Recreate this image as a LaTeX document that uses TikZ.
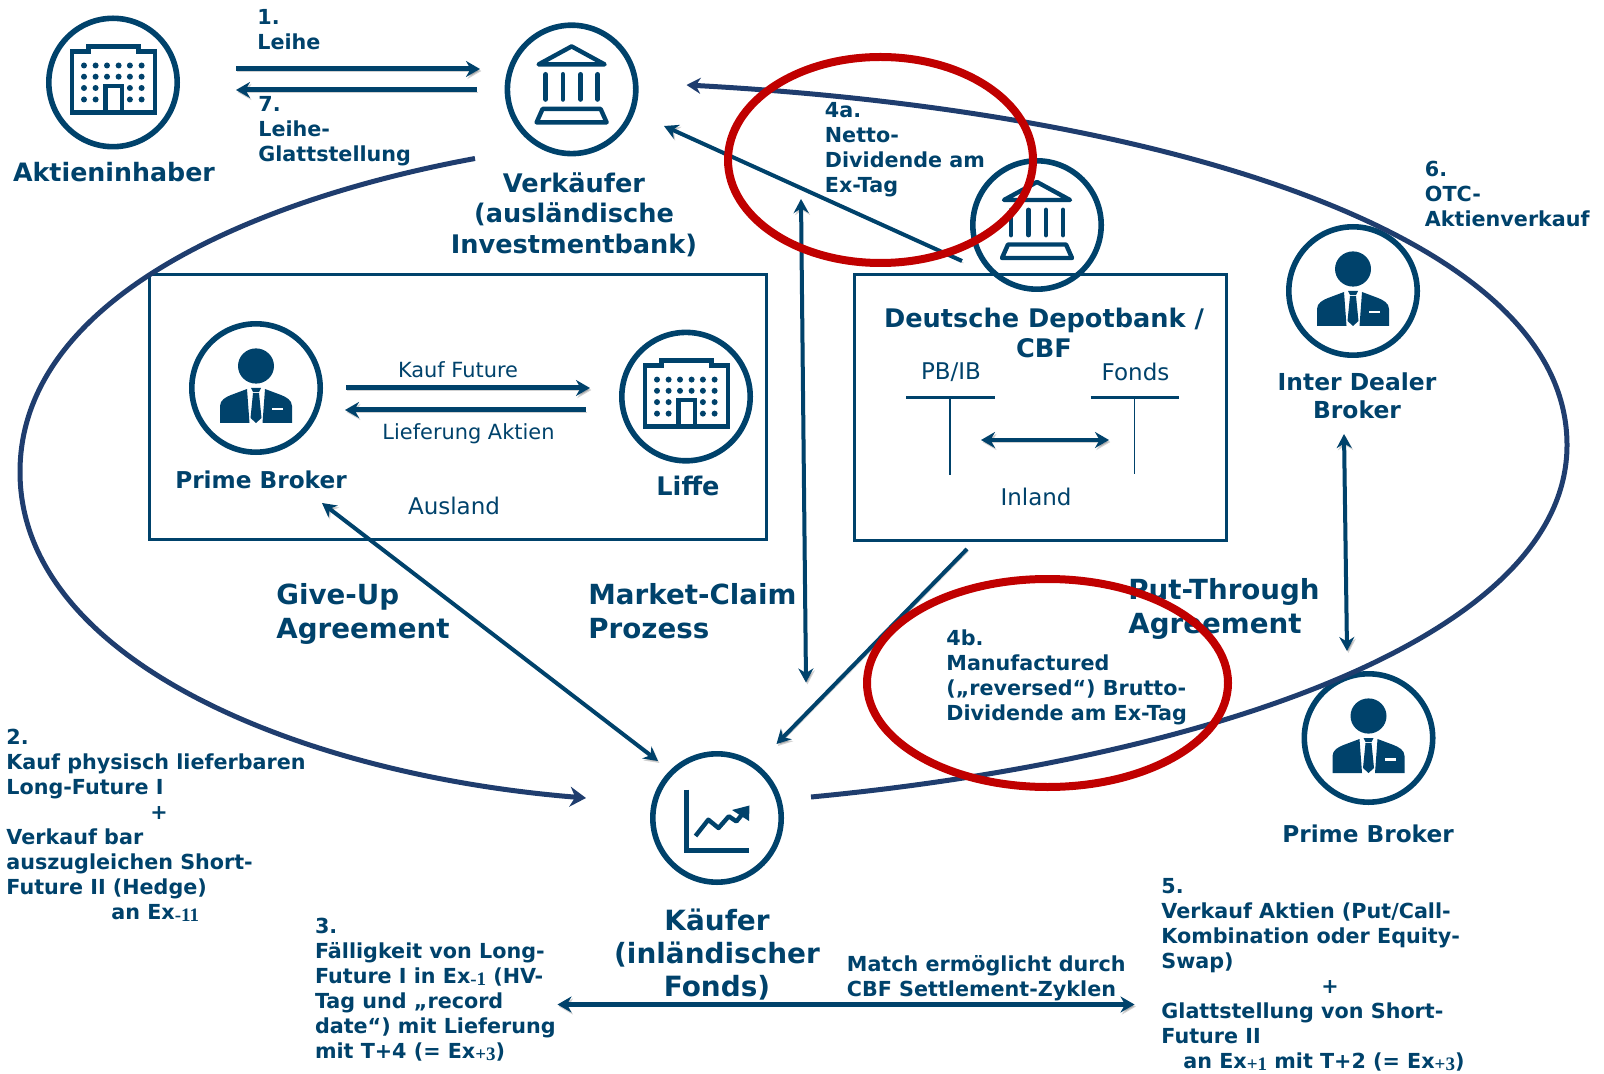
\documentclass[tikz,border=0pt]{standalone}
\usepackage{fontspec}
\setmainfont{DejaVu Sans}
\newfontfamily\subfont{Liberation Serif}
\usepackage{tikz}
\usetikzlibrary{arrows.meta}
\definecolor{navy}{HTML}{00426B}
\definecolor{bogen}{HTML}{1F3D6E}
\definecolor{rot}{HTML}{C00000}
\newcommand{\exsub}[1]{\raisebox{-1pt}{\subfont\fontsize{9.5}{9.5}\selectfont #1}}
\tikzset{
	circ/.style={circle, draw=navy, line width=2.8pt, minimum size=64.2pt, inner sep=0pt},
	icon/.style={draw=navy, line width=2.2pt},
	shad/.style={preaction={draw=black, opacity=.18, transform canvas={xshift=.7pt, yshift=-1pt}}},
	arr/.style={shad, navy, line width=2.5pt, -{Stealth[length=7pt,width=8pt]}},
	darr/.style={shad, navy, line width=2.4pt, {Stealth[length=7pt,width=8pt]}-{Stealth[length=7pt,width=8pt]}},
	diag/.style={shad, navy, line width=2pt, -{Stealth[length=7pt,width=7.5pt]}},
	ddiag/.style={shad, navy, line width=2pt, {Stealth[length=7pt,width=7.5pt]}-{Stealth[length=7pt,width=7.5pt]}},
	bigarc/.style={bogen, line width=2.5pt},
	redring/.style={draw=rot, line width=4pt},
	box/.style={draw=navy, line width=1.5pt, inner sep=0pt},
	lbl/.style={anchor=north west, align=left, inner sep=0pt, text=navy, font=\bfseries\fontsize{10.35}{12.5}\selectfont},
	actor/.style={align=center, inner sep=0pt, text=navy, font=\bfseries\fontsize{12.8}{15.3}\selectfont},
	plain/.style={align=center, inner sep=0pt, text=navy, font=\fontsize{10.45}{13}\selectfont},
	agr/.style={anchor=north west, align=left, inner sep=0pt, text=navy, font=\bfseries\fontsize{13.85}{16.8}\selectfont},
	bldg/.pic={
		\draw[icon] (-41,-31) -- (-24.5,-31) -- (-24.5,-36) -- (25.5,-36) -- (25.5,-31) -- (42,-31) -- (42,30) -- (-41,30) -- cycle;
		\draw[icon] (-7.7,30) -- (-7.7,3.4) -- (9,3.4) -- (9,30);
		\foreach \px in {-29,-17.4,-6,5.6,16.9,28.6}
			\foreach \py in {-17,-5.8} \fill[navy] (\px,\py) circle (1.5pt);
		\foreach \px in {-29,-17.4,16.9,28.6}
			\foreach \py in {5.5,17} \fill[navy] (\px,\py) circle (1.5pt);
	},
	bank/.pic={
		\draw[icon, line join=round] (0,-43) -- (33,-25) -- (-33,-25) -- cycle;
		\foreach \px in {-26,-8.7,9,26}
			\draw[icon, line width=2.4pt, line cap=round] (\px,-15) -- (\px,10);
		\draw[icon, line join=round] (-29,19.5) -- (29,19.5) -- (35,33) -- (-35,33) -- cycle;
	},
	person/.pic={
		\fill[navy] (0,-22) ellipse (9pt and 8.8pt);
		\fill[navy] (-36,35) -- (-36,18) .. controls (-36,12) and (-30,9) .. (-25,7) -- (-9,1) -- (-6.5,35) -- cycle;
		\fill[navy] (36,35) -- (36,18) .. controls (36,12) and (30,9) .. (25,7) -- (9,1) -- (6.5,35) -- cycle;
		\fill[navy] (-5,0) -- (5,0) -- (3,4) -- (-3,4) -- cycle;
		\fill[navy] (-3,5) -- (3,5) -- (5.5,30) -- (0,35) -- (-5.5,30) -- cycle;
		\fill[white] (16,20) rectangle (27,22.5);
	},
	chart/.pic={
		\draw[icon, line width=2.6pt] (-30.7,-28.4) -- (-30.7,32.5) -- (32,32.5);
		\draw[icon, line width=2.2pt, line join=round] (-21.5,18) -- (-8.7,1.7) -- (1.5,10) -- (11.8,-1.7) -- (19.4,3.4) -- (28,-7);
		\fill[navy] (32.5,-12.5) -- (15,-8) -- (32,3) -- cycle;
	}
}
\begin{document}
\begin{tikzpicture}[x=0.5pt, y=-0.5pt]
	\useasboundingbox (0,0) rectangle (1604,1074);
	% circles
	\node[circ] (aktien) at (113,82.5) {};
	\node[circ] (verk) at (571.6,89.4) {};
	\node[circ] (primeA) at (256,388) {};
	\node[circ] (liffe) at (686,396.6) {};
	\node[circ] (depot) at (1037,225) {};
	\node[circ] (idb) at (1353,291) {};
	\node[circ] (primeB) at (1368.5,738) {};
	\node[circ] (kaeufer) at (717,818) {};
	\pic at (aktien.center) {bldg};
	\pic at (liffe.center) {bldg};
	\pic at (verk.center) {bank};
	\pic at (depot.center) {bank};
	\pic at (primeA.center) {person};
	\pic at (idb.center) {person};
	\pic at (primeB.center) {person};
	\pic at (kaeufer.center) {chart};
	% boxes
	\node[box, minimum width=308.5pt, minimum height=132pt] (ausland) at (457.5,407) {};
	\node[box, minimum width=186pt, minimum height=132.5pt] (inland) at (1040,407.5) {};
	% free ends of the connectors
	\coordinate (leiheA) at (236,69);
	\coordinate (leiheB) at (480,69);
	\coordinate (glattA) at (477,90);
	\coordinate (glattB) at (236,90);
	\coordinate (kaufA) at (346,388);
	\coordinate (kaufB) at (590,388);
	\coordinate (liefA) at (586,410);
	\coordinate (liefB) at (345,410);
	\coordinate (settleA) at (981,440);
	\coordinate (settleB) at (1109,440);
	\coordinate (tAtop) at (906,397.6);
	\coordinate (tAtopr) at (995,397.6);
	\coordinate (tAmid) at (950,397.6);
	\coordinate (tAend) at (950,475);
	\coordinate (tBtop) at (1090.5,397.6);
	\coordinate (tBtopr) at (1179,397.6);
	\coordinate (tBmid) at (1134.5,397.6);
	\coordinate (tBend) at (1134.5,474);
	\coordinate (nettoA) at (962,261);
	\coordinate (nettoB) at (664,126);
	\coordinate (claimA) at (801,199);
	\coordinate (claimB) at (806,682.5);
	\coordinate (giveA) at (322,503);
	\coordinate (giveB) at (658,761);
	\coordinate (manufA) at (967,549);
	\coordinate (manufB) at (776.5,744);
	\coordinate (putA) at (1344,434);
	\coordinate (putB) at (1347,651);
	\coordinate (matchA) at (557.5,1004.5);
	\coordinate (matchB) at (1134.5,1004.5);
	\coordinate (arcAs) at (475,158.5);
	\coordinate (arcAm) at (20,472);
	\coordinate (arcAe) at (586,798);
	\coordinate (arcBs) at (811,797);
	\coordinate (arcBm) at (1567,445);
	\coordinate (arcBe) at (686.5,85);
	% connectors
	\draw[arr] (leiheA) -- (leiheB);
	\draw[arr] (glattA) -- (glattB);
	\draw[arr] (kaufA) -- (kaufB);
	\draw[arr] (liefA) -- (liefB);
	\draw[darr] (settleA) -- (settleB);
	\draw[navy, line width=1.3pt] (tAtop) -- (tAtopr);
	\draw[navy, line width=0.9pt] (tAmid) -- (tAend);
	\draw[navy, line width=1.3pt] (tBtop) -- (tBtopr);
	\draw[navy, line width=0.9pt] (tBmid) -- (tBend);
	\draw[diag] (nettoA) -- (nettoB);
	\draw[ddiag] (claimA) -- (claimB);
	\draw[ddiag] (giveA) -- (giveB);
	\draw[diag] (manufA) -- (manufB);
	\draw[ddiag] (putA) -- (putB);
	\draw[darr] (matchA) -- (matchB);
	\draw[bigarc, -{Stealth[length=8pt,width=10pt]}] (arcAs) .. controls (250,200) and (20,300) .. (arcAm) .. controls (20,660) and (300,775) .. (arcAe);
	\draw[bigarc, -{Stealth[length=7pt,width=8pt]}] (arcBs) .. controls (1200,760) and (1567,640) .. (arcBm) .. controls (1567,230) and (1150,110) .. (arcBe);
	% names
	\node[actor, font=\bfseries\fontsize{12.65}{15.2}\selectfont] (nAktien) at (114,172) {Aktieninhaber};
	\node[actor] (nVerk) at (574,214.5) {Verkäufer\\(ausländische\\Investmentbank)};
	\node[actor, font=\bfseries\fontsize{11.6}{13}\selectfont] (nPrimeA) at (261,479.5) {Prime Broker};
	\node[actor] (nLiffe) at (688,485.6) {Liffe};
	\node[plain] (tKauf) at (458,370) {Kauf Future};
	\node[plain] (tLief) at (468.5,433.5) {Lieferung Aktien};
	\node[plain, font=\fontsize{11.5}{14}\selectfont] (tAusland) at (454,506) {Ausland};
	\node[actor] (nDepot) at (1044,333) {Deutsche Depotbank /\\CBF};
	\node[plain, font=\fontsize{11.5}{14}\selectfont] (tPb) at (951,372) {PB/IB};
	\node[plain, font=\fontsize{11.5}{14}\selectfont] (tFonds) at (1135.5,372) {Fonds};
	\node[plain, font=\fontsize{11.5}{14}\selectfont] (tInland) at (1036,496.6) {Inland};
	\node[actor, font=\bfseries\fontsize{11.7}{14}\selectfont] (nIdb) at (1357,396) {Inter Dealer\\Broker};
	\node[actor, font=\bfseries\fontsize{11.6}{14}\selectfont] (nPrimeB) at (1368,834) {Prime Broker};
	\node[actor, font=\bfseries\fontsize{13.95}{16.5}\selectfont] (nKaeufer) at (717,955) {Käufer\\(inländischer\\Fonds)};
	% step labels
	\node[lbl] (lEins) at (257,9.5) {1.\\Leihe};
	\node[lbl] (lSieben) at (258,96) {7.\\Leihe-\\Glattstellung};
	\node[lbl] (lVierA) at (824.5,102.5) {4a.\\Netto-\\Dividende am\\Ex-Tag};
	\node[lbl] (lSechs) at (1424.5,161) {6.\\OTC-\\Aktienverkauf};
	\node[lbl] (lVierB) at (946,629) {4b.\\Manufactured\\(„reversed“) Brutto-\\Dividende am Ex-Tag};
	\node[lbl] (lZwei) at (6,729) {2.\\Kauf physisch lieferbaren\\Long-Future I\\\hspace*{72pt}+\\Verkauf bar\\auszugleichen Short-\\Future II (Hedge)\\\hspace*{52.5pt}an Ex\exsub{-11}};
	\node[lbl] (lDrei) at (314.6,918) {3.\\Fälligkeit von Long-\\Future I in Ex\exsub{-1} (HV-\\Tag und „record\\date“) mit Lieferung\\mit T+4 (= Ex\exsub{+3})};
	\node[lbl] (lFuenf) at (1161,878) {5.\\Verkauf Aktien (Put/Call-\\Kombination oder Equity-\\Swap)\\\hspace*{80pt}+\\Glattstellung von Short-\\Future II\\\hspace*{11pt}an Ex\exsub{+1} mit T+2 (= Ex\exsub{+3})};
	\node[lbl] (lMatch) at (846.5,955) {Match ermöglicht durch\\CBF Settlement-Zyklen};
	% agreements
	\node[agr] (aGive) at (276,583) {Give-Up\\Agreement};
	\node[agr] (aClaim) at (588,583) {Market-Claim\\Prozess};
	\node[agr] (aPut) at (1128,578) {Put-Through\\Agreement};
	% red rings
	\draw[redring] (880.5,160) ellipse (76.25pt and 51.5pt);
	\draw[redring] (1047.5,683) ellipse (90.25pt and 52pt);
\end{tikzpicture}
\end{document}
